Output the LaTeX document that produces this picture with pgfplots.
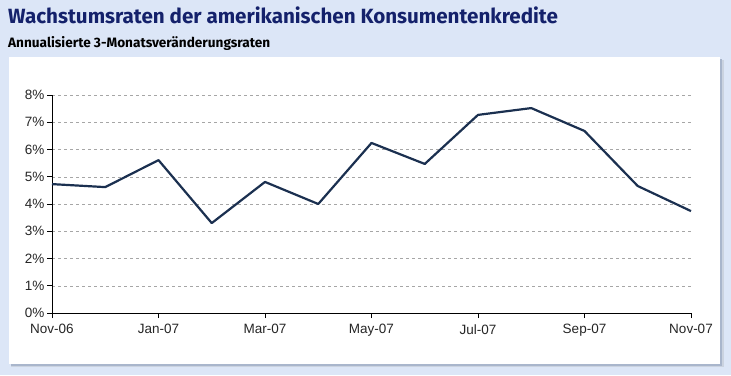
\documentclass[border=0pt]{standalone}
\usepackage{pgfplots}
\pgfplotsset{compat=1.18}
\usepackage{fontspec}
\setmainfont{Liberation Sans}
\newfontfamily\titlefont{Fira Sans}
\definecolor{bgblue}{HTML}{DCE6F7}
\definecolor{navy}{HTML}{14216B}
\definecolor{linecol}{HTML}{1B3050}
\definecolor{shadow}{HTML}{A9B6CC}
\begin{document}
\begin{tikzpicture}[x=1pt,y=1pt]
\useasboundingbox (0,0) rectangle (731,375);
\fill[bgblue] (0,0) rectangle (731,375);
\fill[shadow!60] (11,8) rectangle (724,315);
\fill[shadow] (11,9) rectangle (722,316);
\fill[white] (9,11) rectangle (720,318);
\node[anchor=base west, inner sep=0, text=navy, font=\titlefont\bfseries\fontsize{20.6}{23}\selectfont] at (8,351) {Wachstumsraten der amerikanischen Konsumentenkredite};
\node[anchor=base west, inner sep=0, text=black, font=\titlefont\bfseries\fontsize{13.6}{15}\selectfont] at (8,327.5) {Annualisierte 3-Monatsveränderungsraten};
\begin{axis}[
  at={(52pt,62pt)}, anchor=south west,
  scale only axis, width=639pt, height=218pt,
  xmin=0, xmax=12, ymin=0, ymax=8,
  axis x line*=bottom, axis y line*=left,
  axis line style={black, line width=0.8pt},
  xtick={0,2,4,6,8,10,12},
  xticklabels={Nov-06,Jan-07,Mar-07,May-07,Jul-07,Sep-07,Nov-07},
  ytick={0,1,...,8},
  yticklabel={\pgfmathprintnumber{\tick}\%},
  /pgf/number format/assume math mode=true,
  tick style={black, line width=0.6pt},
  tickwidth=5pt,
  xtick pos=bottom, ytick pos=left,
  tick align=outside,
  ymajorgrids,
  grid style={gray!70, dashed, line width=0.4pt},
  ticklabel style={font=\fontsize{13.5}{15}\selectfont, text=black!85},
  xticklabel style={yshift=-3pt},
  yticklabel style={xshift=1pt},
  clip=false,
]
\addplot[linecol, line width=2.2pt, mark=none, line join=round] coordinates {
 (0,4.73) (1,4.62) (2,5.61) (3,3.30) (4,4.81) (5,4.00) (6,6.24)
 (7,5.47) (8,7.27) (9,7.52) (10,6.68) (11,4.66) (12,3.74)
};
\end{axis}
\end{tikzpicture}
\end{document}
